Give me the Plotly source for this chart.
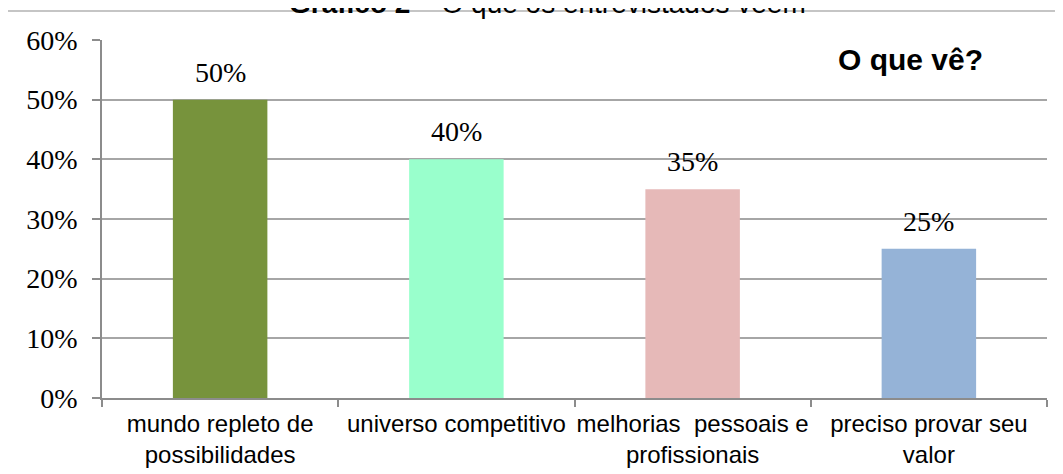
import plotly.graph_objects as go

categories = ["mundo repleto de<br>possibilidades", "universo competitivo",
              "melhorias  pessoais e<br>profissionais", "preciso provar seu<br>valor"]
values = [0.50, 0.40, 0.35, 0.25]
colors = ["#77933C", "#99FFCC", "#E6B9B8", "#95B3D7"]
value_labels = ["50%", "40%", "35%", "25%"]
y_ticks = [0, 0.1, 0.2, 0.3, 0.4, 0.5, 0.6]
y_tick_labels = ["0%", "10%", "20%", "30%", "40%", "50%", "60%"]
title_bold = "Gráfico 2"
title_rest = " – O que os entrevistados vêem"
legend_title = "O que vê?"

fig = go.Figure()
fig.add_trace(go.Bar(x=categories, y=values, marker=dict(color=colors, line=dict(width=0)),
                     width=0.4, showlegend=False, hoverinfo="skip"))

for c, v, t in zip(categories, values, value_labels):
    fig.add_annotation(x=c, y=v, xref="x", yref="y", text=t, showarrow=False,
                       yanchor="bottom", yshift=10,
                       font=dict(family="Liberation Serif", size=28, color="#000000"))

fig.add_annotation(xref="paper", yref="paper", x=0.471, y=1.053, xanchor="center", yanchor="bottom",
                   text=f"<b>{title_bold}</b>{title_rest}", showarrow=False,
                   font=dict(family="Liberation Sans", size=28, color="#000000"))
fig.add_annotation(xref="paper", yref="paper", x=0.856, y=0.945, xanchor="center", yanchor="middle",
                   text=f"<b>{legend_title}</b>", showarrow=False,
                   font=dict(family="Liberation Sans", size=30, color="#000000"))

fig.add_shape(type="rect", xref="paper", yref="paper", x0=-0.1005, y0=-0.4, x1=1.1, y1=1.081,
              line=dict(color="#8C8C8C", width=1.2), layer="below")

fig.update_layout(
    margin=dict(l=102, r=16, t=40, b=76, autoexpand=False),
    paper_bgcolor="white", plot_bgcolor="white",
    bargap=0.6,
    xaxis=dict(type="category", tickson="boundaries", ticks="outside", ticklen=7,
               tickcolor="#8C8C8C", tickwidth=1.5, showline=True, linecolor="#8C8C8C",
               linewidth=1.5, showgrid=False, ticklabelstandoff=3, tickangle=0,
               tickfont=dict(family="Liberation Sans", size=24, color="#000000")),
    yaxis=dict(range=[0, 0.6], tickvals=y_ticks, ticktext=y_tick_labels,
               ticks="outside", ticklen=8, tickcolor="#8C8C8C", tickwidth=1.5,
               showline=True, linecolor="#8C8C8C", linewidth=1.5,
               showgrid=True, gridcolor="#A6A6A6", gridwidth=1.5, zeroline=False,
               ticklabelstandoff=9,
               tickfont=dict(family="Liberation Serif", size=28, color="#000000")),
)

fig.write_html("out.html",
               default_width="1063px; margin:-8px 0 0 -8px",
               default_height="474px")
